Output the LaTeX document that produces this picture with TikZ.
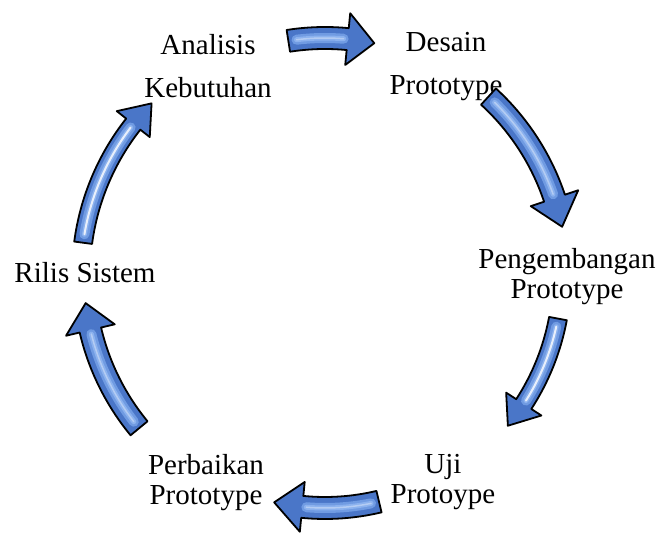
\documentclass[tikz,border=0pt]{standalone}
\usepackage{fontspec}
\setmainfont{Liberation Serif}
\begin{document}
\begin{tikzpicture}[
  x=1pt, y=1pt,
  label/.style={align=center, inner sep=0pt, font=\fontsize{29}{30}\selectfont},
  widelabel/.style={label, font=\fontsize{29}{43}\selectfont},
  arrowbody/.style={fill={rgb,255:red,74;green,118;blue,200}, draw=black, line width=1.8pt, line join=round},
  glowwide/.style={draw={rgb,255:red,112;green,155;blue,226}, line width=10pt, line cap=round},
  glowmid/.style={draw={rgb,255:red,140;green,178;blue,238}, line width=5pt, line cap=round},
  glowcore/.style={draw=white, opacity=0.35, line width=1.5pt, line cap=round},
  glowbright/.style={draw=white, opacity=0.8, line width=2pt, line cap=round}
]
\useasboundingbox[fill=white] (0,0) rectangle (661,535);
\coordinate (C) at (325,260);

% curved block arrow running clockwise round C
% [#1] style of the centre highlight, #2 tail angle, #3 tip angle, #4 radius,
% #5 shaft half width, #6 head half width, #7 head length (degrees)
\newcommand{\cyclearrow}[7][glowcore]{%
  \pgfmathsetmacro{\cyHead}{#3+#7}%
  \pgfmathsetmacro{\cyOut}{#4+#5}%
  \pgfmathsetmacro{\cyIn}{#4-#5}%
  \pgfmathsetmacro{\cyHOut}{#4+#6}%
  \pgfmathsetmacro{\cyHIn}{#4-#6}%
  \pgfmathsetmacro{\cyGs}{#2-2}%
  \pgfmathsetmacro{\cyGe}{#3+#7+1}%
  \begin{scope}[shift={(C)}]
    \path[arrowbody] (#2:\cyOut pt) arc[start angle=#2, end angle=\cyHead, radius=\cyOut pt]
      -- (\cyHead:\cyHOut pt) -- (#3:#4pt) -- (\cyHead:\cyHIn pt) -- (\cyHead:\cyIn pt)
      arc[start angle=\cyHead, end angle=#2, radius=\cyIn pt] -- cycle;
    \draw[glowwide] (\cyGs:#4pt) arc[start angle=\cyGs, end angle=\cyGe, radius=#4pt];
    \draw[glowmid] (\cyGs:#4pt) arc[start angle=\cyGs, end angle=\cyGe, radius=#4pt];
    \draw[#1] (\cyGs:#4pt) arc[start angle=\cyGs, end angle=\cyGe, radius=#4pt];
  \end{scope}}

% stage labels
\node[widelabel] (anal) at (208,468.5) {Analisis\\Kebutuhan};
\node[widelabel] (desn) at (446,468.5) {Desain\\Prototype};
\node[label] (peng) at (567,258) {Pengembangan\\Prototype};
\node[label] (uji) at (443,52.5) {Uji\\Protoype};
\node[label] (perb) at (206,52.5) {Perbaikan\\Prototype};
\node[label] (rils) at (85,262) {Rilis Sistem};

% arrows between stages
\cyclearrow{98.9}{78}{237}{11}{26}{6.5}
\cyclearrow{47.5}{11.5}{242}{11}{25}{7}
\cyclearrow[glowbright]{-10.6}{-39.5}{237}{9}{21}{6.5}
\cyclearrow{-76.6}{-102.6}{233}{11}{25}{7}
\cyclearrow{-140.5}{-173.3}{241}{11}{25}{6.5}
\cyclearrow[glowbright]{172.4}{135.3}{244}{9}{21}{6.5}
\end{tikzpicture}
\end{document}
